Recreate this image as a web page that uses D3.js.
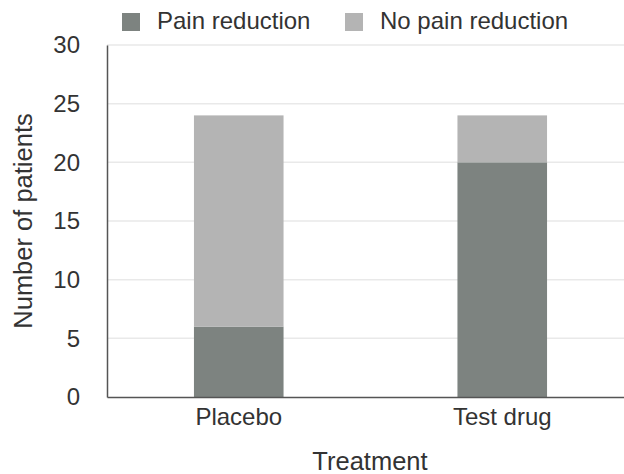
<!DOCTYPE html>
<html>
<head>
<meta charset="utf-8">
<script src="https://cdn.jsdelivr.net/npm/d3@7"></script>
<style>
  body { margin: 0; background: #fff; }
  text { font-family: "Liberation Sans", Arial, sans-serif; fill: #333; }
</style>
</head>
<body>
<div id="chart"></div>
<script>
const treatments = ["Placebo", "Test drug"];
const seriesNames = ["Pain reduction", "No pain reduction"];
const painReduction = [6, 20];
const noPainReduction = [18, 4];
const yTicks = [0, 5, 10, 15, 20, 25, 30];

const colors = { "Pain reduction": "#7d8380", "No pain reduction": "#b4b4b4" };

const width = 624, height = 474;
const margin = {top: 45, right: -10, bottom: 77, left: 107};

const svg = d3.select("#chart").append("svg")
    .attr("width", width)
    .attr("height", height);

const rows = treatments.map((t, i) => ({
    treatment: t,
    "Pain reduction": painReduction[i],
    "No pain reduction": noPainReduction[i]
}));

const stacked = d3.stack().keys(seriesNames)(rows);

const x = d3.scaleBand()
    .domain(treatments)
    .range([margin.left, width - margin.right])
    .paddingInner(0.66)
    .paddingOuter(0.33);

const y = d3.scaleLinear()
    .domain([0, 30])
    .range([height - margin.bottom, margin.top]);

// gridlines
svg.append("g")
    .selectAll("line")
    .data(yTicks.filter(d => d > 0))
    .join("line")
    .attr("x1", margin.left)
    .attr("x2", width)
    .attr("y1", d => y(d))
    .attr("y2", d => y(d))
    .attr("stroke", "#e9e9e9")
    .attr("stroke-width", 1.5);

// bars
svg.append("g")
    .selectAll("g")
    .data(stacked)
    .join("g")
    .attr("fill", d => colors[d.key])
    .selectAll("rect")
    .data(d => d)
    .join("rect")
    .attr("x", d => x(d.data.treatment))
    .attr("width", x.bandwidth())
    .attr("y", d => y(d[1]))
    .attr("height", d => y(d[0]) - y(d[1]));

// y axis
const yAxis = svg.append("g")
    .attr("transform", `translate(${margin.left},0)`)
    .call(d3.axisLeft(y).tickValues(yTicks).tickSize(0).tickPadding(27));
yAxis.select(".domain").attr("stroke", "#555").attr("stroke-width", 1.5);
yAxis.selectAll("text")
    .style("font-size", "24px")
    .style("font-family", "'Liberation Sans', Arial, sans-serif")
    .attr("fill", "#333");

// x axis
const xAxis = svg.append("g")
    .attr("transform", `translate(0,${y(0)})`)
    .call(d3.axisBottom(x).tickSize(0).tickPadding(11));
xAxis.select(".domain").attr("stroke", "#555").attr("stroke-width", 1.5);
xAxis.selectAll("text")
    .style("font-size", "24px")
    .style("font-family", "'Liberation Sans', Arial, sans-serif")
    .attr("fill", "#333");

// axis titles
svg.append("text")
    .attr("x", 370)
    .attr("y", 470)
    .attr("text-anchor", "middle")
    .style("font-size", "25.5px")
    .text("Treatment");

svg.append("text")
    .attr("transform", "rotate(-90)")
    .attr("x", -221)
    .attr("y", 32)
    .attr("text-anchor", "middle")
    .style("font-size", "25.5px")
    .text("Number of patients");

// legend
const legendX = [122, 345];
const legend = svg.append("g")
    .selectAll("g")
    .data(seriesNames)
    .join("g")
    .attr("transform", (d, i) => `translate(${legendX[i]},13)`);

legend.append("rect")
    .attr("width", 18)
    .attr("height", 18)
    .attr("fill", d => colors[d]);

legend.append("text")
    .attr("x", 35)
    .attr("y", 16)
    .style("font-size", "24px")
    .text(d => d);
</script>
</body>
</html>
